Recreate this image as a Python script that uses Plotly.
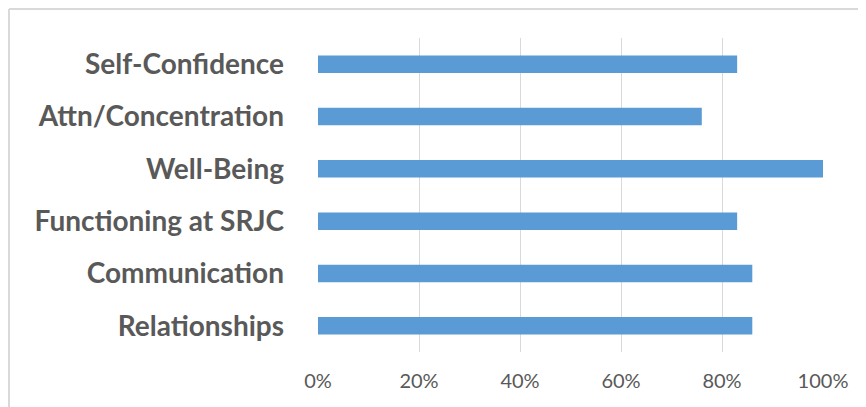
import plotly.graph_objects as go

categories = ["Relationships", "Communication", "Functioning at SRJC",
              "Well-Being", "Attn/Concentration", "Self-Confidence"]
values = [0.86, 0.86, 0.83, 1.00, 0.76, 0.83]
tick_vals = [0, 0.2, 0.4, 0.6, 0.8, 1.0]
tick_text = ["0%", "20%", "40%", "60%", "80%", "100%"]

W, H = 858, 399
ml, mr, mt, mb = 310, 43, 30, 55
pw, ph = W - ml - mr, H - mt - mb

fig = go.Figure(go.Bar(
    x=values, y=categories, orientation="h",
    marker=dict(color="#5B9BD5", line=dict(width=0)),
    hoverinfo="x+y",
))

bx = (1 - ml) / pw
by = (H - mb - 1) / ph
fig.add_shape(type="line", xref="paper", yref="paper",
              x0=bx, y0=by, x1=1.2, y1=by,
              line=dict(color="#D9D9D9", width=2))
fig.add_shape(type="line", xref="paper", yref="paper",
              x0=bx, y0=by, x1=bx, y1=-0.3,
              line=dict(color="#D9D9D9", width=2))

fig.update_layout(
    width=W, height=H,
    margin=dict(l=ml, r=mr, t=mt, b=mb, pad=0),
    paper_bgcolor="white", plot_bgcolor="white",
    bargap=0.665,
    showlegend=False,
    font=dict(family="Lato", color="#595959"),
    xaxis=dict(range=[0, 1], tickvals=tick_vals, ticktext=tick_text,
               showgrid=True, gridcolor="#D9D9D9", gridwidth=1,
               zeroline=False, showline=False, ticks="",
               tickfont=dict(family="Lato", size=20, color="#595959"),
               ticklabelstandoff=15, automargin=False, fixedrange=True),
    yaxis=dict(showgrid=False, zeroline=False, showline=False, ticks="",
               tickfont=dict(family="Lato", size=28, color="#595959", weight="bold"),
               ticklabelstandoff=33, automargin=False, fixedrange=True),
)

fig.write_html("out.html")
